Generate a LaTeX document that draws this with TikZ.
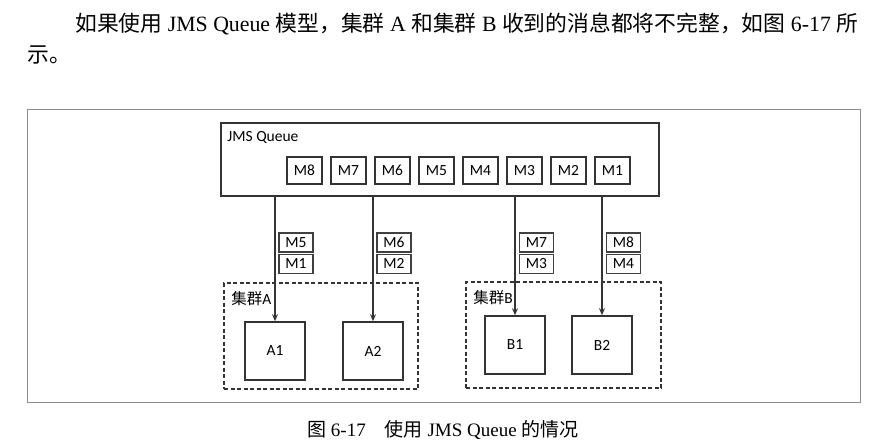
\documentclass[tikz,border=0pt]{standalone}
\usepackage{fontspec}
\setmainfont{Liberation Serif}
\newfontfamily\cjk{Noto Sans CJK SC}
\newfontfamily\diag{Carlito}
\usetikzlibrary{arrows.meta, positioning}

\begin{document}
\begin{tikzpicture}[x=1pt,y=-1pt,
  every node/.style={font=\diag\fontsize{15.5}{18}\selectfont},
  msg/.style={draw=black!80,line width=1.5pt,minimum width=35pt,minimum height=27pt,inner sep=0pt},
  sent/.style={draw=black!75,line width=1.1pt,minimum width=34pt,minimum height=19pt,inner sep=0pt},
  member/.style={draw=black!80,line width=1.6pt,minimum width=60pt,minimum height=58pt,inner sep=0pt},
  cluster/.style={draw=black!80,dash pattern=on 4pt off 2.5pt,line width=1.5pt,inner sep=0pt},
  feed/.style={-{Stealth[length=7pt,width=6pt]},draw=black!80,line width=1.2pt},
  body/.style={font=\rmfamily\fontsize{21.8}{25}\selectfont,inner sep=0pt}]
\useasboundingbox (0,0) rectangle (879,447);
% Text
\node[body,anchor=west] (Intro) at (75,24) {{\cjk 如果使用} JMS Queue {\cjk 模型，集群} A {\cjk 和集群} B {\cjk 收到的消息都将不完整，如图} 6-17 {\cjk 所}};
\node[body,anchor=west] (IntroEnd) at (27,55) {{\cjk 示。}};
% Frame
\draw[black!45,line width=1pt] (27,109) rectangle (860,402);
% Queue
\node[draw=black!80,line width=1.5pt,minimum width=438pt,minimum height=73pt,inner sep=0pt] (Queue) at (440,159.5) {};
\node[anchor=north west,inner sep=0pt] (QueueLabel) at ([shift={(7,9)}]Queue.north west) {JMS Queue};
\node[msg] (M8) at (304.5,170.5) {M8};
\node[msg,right=7.5pt of M8] (M7) {M7};
\node[msg,right=7.5pt of M7] (M6) {M6};
\node[msg,right=7.5pt of M6] (M5) {M5};
\node[msg,right=7.5pt of M5] (M4) {M4};
\node[msg,right=7.5pt of M4] (M3) {M3};
\node[msg,right=7.5pt of M3] (M2) {M2};
\node[msg,right=7.5pt of M2] (M1) {M1};
% Clusters
\node[cluster,minimum width=194pt,minimum height=106pt] (ClusterA) at (321,336) {};
\node[anchor=north west,inner sep=0pt] (ClusterALabel) at ([shift={(8,9)}]ClusterA.north west) {{\cjk 集群}A};
\node[cluster,minimum width=195pt,minimum height=106pt] (ClusterB) at (563.5,335) {};
\node[anchor=north west,inner sep=0pt] (ClusterBLabel) at ([shift={(8,9)}]ClusterB.north west) {{\cjk 集群}B};
\node[member] (A1) at (275,351) {A1};
\node[member] (A2) at (373,351) {A2};
\node[member] (B1) at (515,345) {B1};
\node[member] (B2) at (602,345) {B2};
% Arrows
\draw[feed] (Queue.south -| A1.north) -- (A1.north);
\draw[feed] (Queue.south -| A2.north) -- (A2.north);
\draw[feed] (Queue.south -| B1.north) -- (B1.north);
\draw[feed] (Queue.south -| B2.north) -- (B2.north);
% Messages on the way
\node[sent] (SentA5) at (296,242.5) {M5};
\node[sent,below=1pt of SentA5] (SentA1) {M1};
\node[sent] (SentA6) at (394,242.5) {M6};
\node[sent,below=1pt of SentA6] (SentA2) {M2};
\node[sent] (SentB7) at (536.5,242.5) {M7};
\node[sent,below=1pt of SentB7] (SentB3) {M3};
\node[sent] (SentB8) at (623.5,242.5) {M8};
\node[sent,below=1pt of SentB8] (SentB4) {M4};
% Caption
\node[anchor=west,font=\rmfamily\fontsize{19}{22}\selectfont,inner sep=0pt] (Caption) at (307,430) {{\cjk 图} 6-17{\cjk 　使用} JMS Queue {\cjk 的情况}};
\end{tikzpicture}
\end{document}
